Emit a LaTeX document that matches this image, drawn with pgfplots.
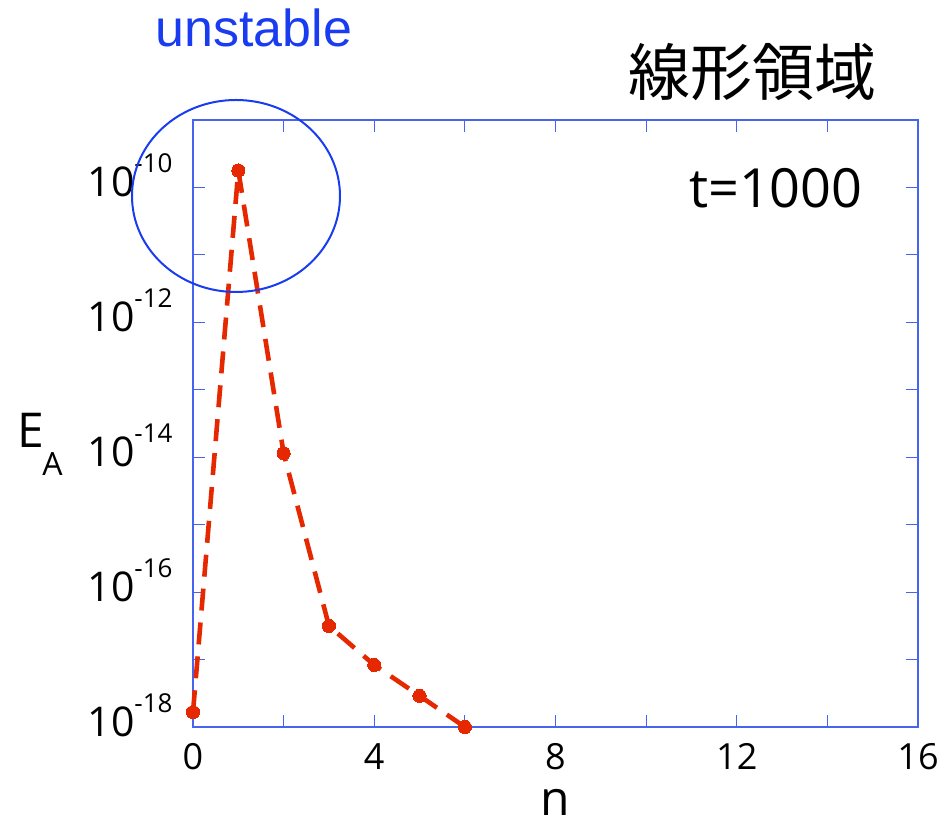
\documentclass[border=0pt]{standalone}
\usepackage{fontspec}
\setmainfont{Open Sans}
\newfontfamily\cjk{Noto Sans CJK JP}
\newfontfamily\helv{Liberation Sans}
\usepackage{pgfplots}
\pgfplotsset{compat=1.18}
\definecolor{axblue}{RGB}{70,100,240}
\definecolor{ringblue}{RGB}{25,60,240}
\definecolor{datared}{RGB}{230,40,0}
% power-of-ten tick label with a raised text exponent
\newcommand{\tenpow}[1]{10\raisebox{12pt}{\fontsize{13}{13}\selectfont -#1}}
\begin{document}
\begin{tikzpicture}
\begin{axis}[
  at={(0,0)}, anchor=south west,
  scale only axis, width=362.5pt, height=303.5pt,
  xmin=0, xmax=16,
  ymode=log, ymin=1e-18, ymax=1e-9,
  axis line style={axblue, line width=0.8pt},
  tick style={axblue, line width=0.6pt},
  major tick length=6pt,
  tick align=inside,
  xminorticks=false, yminorticks=false,
  xtick={0,2,...,16},
  xticklabels={0,,4,,8,,12,,16},
  ytick={1e-18,1e-17,1e-16,1e-15,1e-14,1e-13,1e-12,1e-11,1e-10,1e-9},
  yticklabels={\tenpow{18},,\tenpow{16},,\tenpow{14},,\tenpow{12},,\tenpow{10},},
  xticklabel style={font=\fontsize{18}{18}\selectfont, inner sep=0pt, anchor=north, yshift=-8pt},
  yticklabel style={font=\fontsize{20.5}{20.5}\selectfont, inner sep=0pt, anchor=base east, xshift=-10pt, yshift=-4.5pt},
  clip=false,
]
\addplot[datared, line width=2.3pt, dash pattern=on 11pt off 6pt,
  mark=*, mark size=3.3pt, mark options={solid, fill=datared, draw=datared, line width=0pt}]
  coordinates {
    (0,1.66e-18)
    (1,1.78e-10)
    (2,1.15e-14)
    (3,3.16e-17)
    (4,8.3e-18)
    (5,2.9e-18)
    (6,1.0e-18)
  };
\end{axis}
\draw[ringblue, line width=1pt] (21.5pt,265.5pt) ellipse [x radius=52pt, y radius=48pt];
\node[anchor=base west, inner sep=0pt, text=ringblue, font=\helv\fontsize{26}{26}\selectfont] at (-19pt,340pt) {unstable};
\node[anchor=center, inner sep=0pt, font=\cjk\fontsize{31}{31}\selectfont] at (279.5pt,327.5pt) {線形領域};
\node[anchor=base east, inner sep=0pt, font=\fontsize{27}{27}\selectfont] at (335pt,259.5pt) {t=1000};
\node[anchor=base west, inner sep=0pt, font=\fontsize{24}{24}\selectfont] at (-88pt,139.5pt) {E};
\node[anchor=base west, inner sep=0pt, font=\fontsize{16}{16}\selectfont] at (-75.5pt,125.5pt) {A};
\node[anchor=base, inner sep=0pt, font=\fontsize{24}{24}\selectfont] at (181.25pt,-44.5pt) {n};
\pgfresetboundingbox
\path[use as bounding box] (-96.5pt,-50.5pt) rectangle (375pt,363.5pt);
\end{tikzpicture}
\end{document}
